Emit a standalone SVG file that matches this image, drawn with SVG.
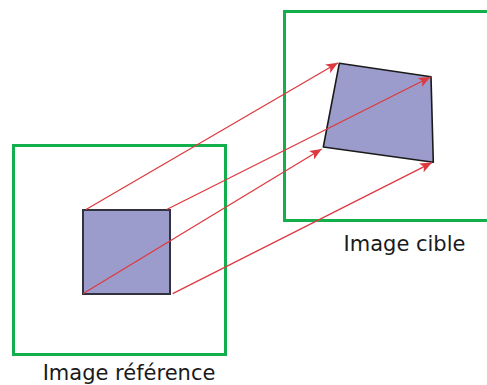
<svg xmlns="http://www.w3.org/2000/svg" width="487" height="385" viewBox="0 0 487 385">
<style>
.frame{fill:none;stroke:#12b04c;stroke-width:3}
.sq{fill:#9b9ccb;stroke:#333340;stroke-width:2}
.quad{fill:#9b9ccb;stroke:#1a1a1a;stroke-width:1.6;stroke-linejoin:round}
.arr{fill:none;stroke:#dd3a3f;stroke-width:1.3}
.lbl{font-family:"DejaVu Sans",sans-serif;font-size:21px;fill:#1a1a1a;text-anchor:middle}
</style>
<defs>
<marker id="ah" viewBox="0 0 12 10" refX="12" refY="5" markerWidth="12" markerHeight="10" markerUnits="userSpaceOnUse" orient="auto">
<path d="M0,0 L12,5 L0,10 L3,5 Z" fill="#dd3a3f"/>
</marker>
</defs>
<g id="ref-image">
<rect class="frame" x="13.5" y="145.5" width="212" height="209"/>
<text class="lbl" x="129" y="380">Image référence</text>
</g>
<g id="target-image">
<rect class="frame" x="284.5" y="11.5" width="210" height="209"/>
<text class="lbl" x="404.5" y="251">Image cible</text>
</g>
<g id="source-square">
<rect class="sq" x="83" y="210" width="87" height="84"/>
</g>
<g id="target-quad">
<polygon class="quad" points="339.3,63.3 431,76.7 433.3,162.3 323.3,147"/>
</g>
<g id="connectors">
<line class="arr" x1="86" y1="209.5" x2="338" y2="62.8" marker-end="url(#ah)"/>
<line class="arr" x1="166.7" y1="209.5" x2="430.5" y2="77" marker-end="url(#ah)"/>
<line class="arr" x1="83.3" y1="293.5" x2="321.7" y2="149" marker-end="url(#ah)"/>
<line class="arr" x1="172.7" y1="293.7" x2="432" y2="162.6" marker-end="url(#ah)"/>
</g>
</svg>
